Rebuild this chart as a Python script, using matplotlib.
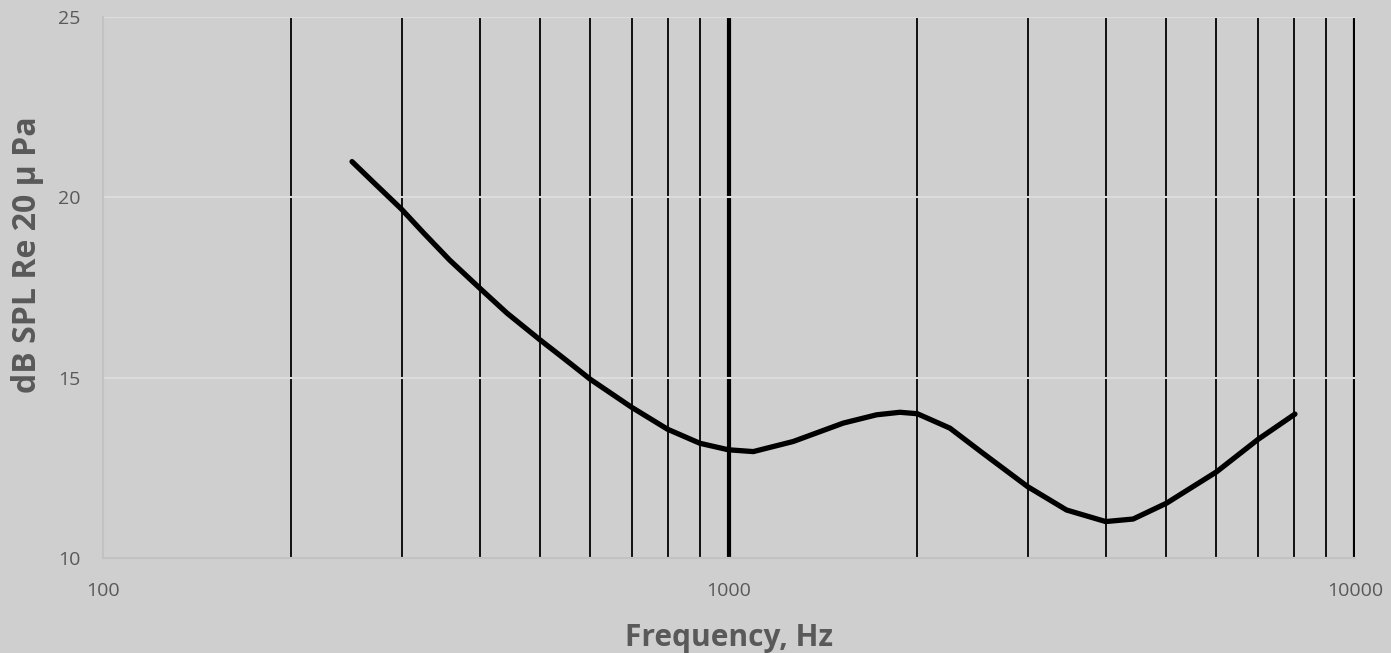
import numpy as np
import matplotlib
matplotlib.use('Agg')
import matplotlib.pyplot as plt
from matplotlib.ticker import FixedLocator, NullFormatter

# Threshold curve (frequency in Hz, level in dB SPL)
freq_hz = [250, 270, 300, 325, 358, 400, 442, 499, 537, 564, 600, 699, 798,
           899, 998, 1094, 1267, 1523, 1722, 1876, 2000, 2255, 2548, 3000,
           3463, 3999, 4424, 5003, 6014, 7006, 8023]
level_db = [20.99, 20.43, 19.67, 19.02, 18.26, 17.48, 16.79, 16.05, 15.62,
            15.33, 14.96, 14.18, 13.57, 13.18, 13.0, 12.95, 13.23, 13.74,
            13.97, 14.04, 14.0, 13.6, 12.9, 11.98, 11.33, 11.01, 11.08,
            11.52, 12.39, 13.29, 13.99]

y_ticks = [10, 15, 20, 25]
x_ticks = [100, 1000, 10000]
x_minor = [200, 300, 400, 500, 600, 700, 800, 900,
           2000, 3000, 4000, 5000, 6000, 7000, 8000, 9000]

bg = '#cfcfcf'
text_col = '#595959'

plt.rcParams['font.family'] = ['Open Sans', 'DejaVu Sans']

fig = plt.figure(figsize=(13.91, 6.53), dpi=100, facecolor=bg)
ax = fig.add_axes([0.074, 0.1455, 0.9, 0.8285])
ax.set_facecolor(bg)

ax.set_xscale('log')
ax.set_xlim(100, 10000)
ax.set_ylim(10, 25)

# horizontal light grid
ax.set_yticks(y_ticks)
ax.yaxis.grid(True, color='#dcdcdc', linewidth=1.5)

# vertical black grid lines
ax.xaxis.set_major_locator(FixedLocator(x_ticks))
ax.xaxis.set_minor_locator(FixedLocator(x_minor))
ax.xaxis.set_minor_formatter(NullFormatter())
ax.set_xticklabels([str(t) for t in x_ticks])
ax.xaxis.grid(True, which='major', color='black', linewidth=3)
ax.xaxis.grid(True, which='minor', color='black', linewidth=1.3)
ax.xaxis.get_gridlines()[0].set_visible(False)
ax.set_axisbelow(True)

ax.plot(freq_hz, level_db, color='black', linewidth=3.8,
        solid_capstyle='round', solid_joinstyle='round', zorder=5)

for side in ['top', 'right']:
    ax.spines[side].set_visible(False)
for side in ['left', 'bottom']:
    ax.spines[side].set_color('#c2c2c2')
    ax.spines[side].set_linewidth(1.5)
    ax.spines[side].set_zorder(1)

ax.tick_params(axis='both', which='both', length=0, colors=text_col,
               labelsize=14)
ax.tick_params(axis='x', pad=17)
ax.tick_params(axis='y', pad=16)

ax.set_xlabel('Frequency, Hz', fontsize=21.5, fontweight='bold',
              color=text_col, labelpad=17)
ax.set_ylabel('dB SPL Re 20 µ Pa', fontsize=23, fontweight='bold',
              color=text_col)
ax.yaxis.set_label_coords(-0.047, 0.56)

fig.savefig('out.png', dpi=100, facecolor=bg)
